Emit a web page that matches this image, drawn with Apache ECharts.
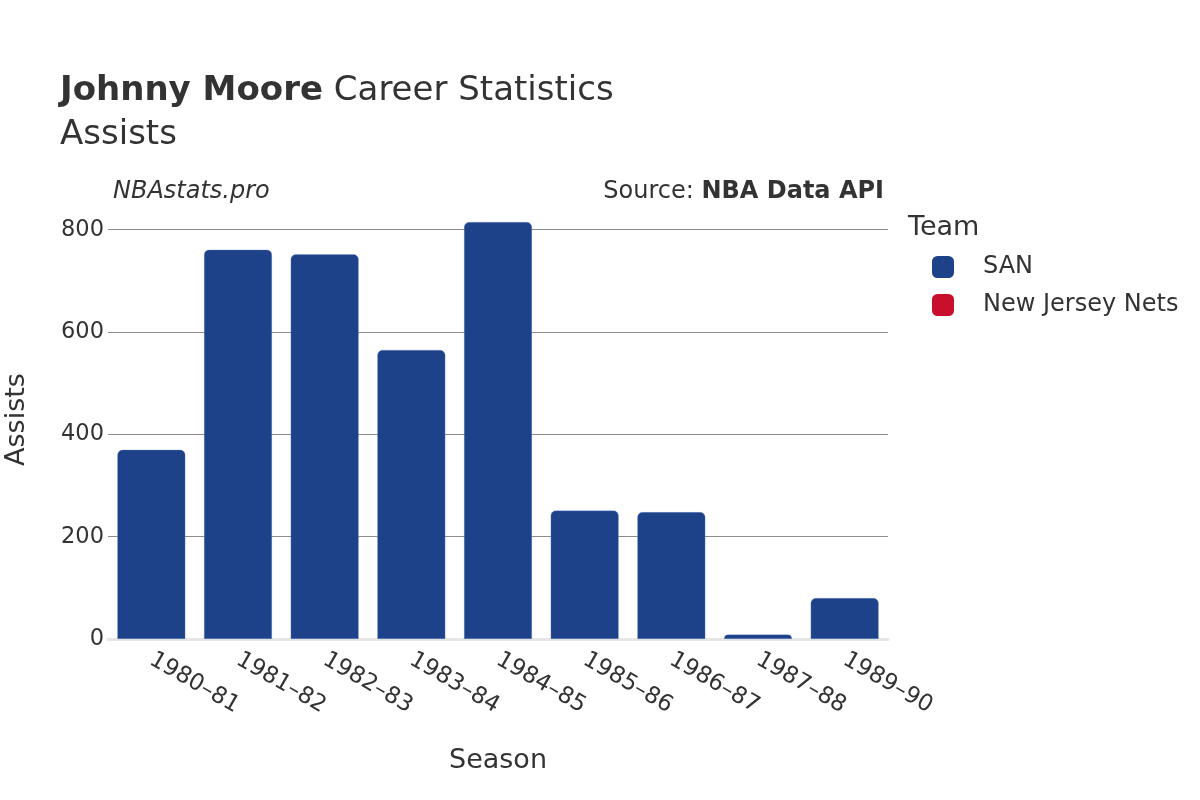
<!DOCTYPE html>
<html>
<head>
<meta charset="utf-8">
<script src="https://cdn.jsdelivr.net/npm/echarts@6/dist/echarts.min.js"></script>
<style>
  html, body { margin: 0; padding: 0; background: #fff; }
  #chart { width: 1200px; height: 800px; }
</style>
</head>
<body>
<div id="chart"></div>
<script>
const seasons = ['1980–81', '1981–82', '1982–83', '1983–84', '1984–85', '1985–86', '1986–87', '1987–88', '1989–90'];
const sanAssists = [370, 761, 752, 565, 815, 251, 248, 9, 80];
const njnAssists = [null, null, null, null, null, null, null, null, null];
const teamNames = ['SAN', 'New Jersey Nets'];
const teamColors = ['#1d428a', '#c8102e'];
const yTicks = [0, 200, 400, 600, 800];

const FONT = 'DejaVu Sans';
const TXT = '#333333';

const chart = echarts.init(document.getElementById('chart'), null, { renderer: 'canvas' });

const option = {
  backgroundColor: '#ffffff',
  animation: false,
  textStyle: { fontFamily: FONT, color: TXT },
  title: [
    {
      text: '{b|Johnny Moore} Career Statistics',
      left: 55, top: 69,
      textStyle: {
        fontFamily: FONT, fontSize: 34, fontWeight: 'normal', color: TXT,
        rich: { b: { fontFamily: FONT, fontSize: 34, fontWeight: 'bold', color: TXT } }
      }
    },
    {
      text: 'Assists',
      left: 55, top: 113,
      textStyle: { fontFamily: FONT, fontSize: 34, fontWeight: 'normal', color: TXT }
    },
    {
      text: 'NBAstats.pro',
      left: 108, top: 175,
      textStyle: { fontFamily: FONT, fontSize: 24, fontStyle: 'italic', fontWeight: 'normal', color: TXT }
    },
    {
      text: 'Source: {b|NBA Data API}',
      right: 311, top: 175,
      textStyle: {
        fontFamily: FONT, fontSize: 24, fontWeight: 'normal', color: TXT,
        rich: { b: { fontFamily: FONT, fontSize: 24, fontWeight: 'bold', color: TXT } }
      }
    },
    {
      text: 'Team',
      left: 903, top: 209,
      textStyle: { fontFamily: FONT, fontSize: 27, fontWeight: 'normal', color: TXT }
    }
  ],
  legend: {
    orient: 'vertical',
    left: 927, top: 250,
    itemWidth: 22, itemHeight: 22,
    itemGap: 14,
    icon: 'roundRect',
    data: teamNames,
    itemStyle: { borderWidth: 0 },
    textStyle: { fontFamily: FONT, fontSize: 24, color: TXT, padding: [0, 0, 0, 24], lineHeight: 22 }
  },
  grid: { left: 108, right: 312, top: 200, bottom: 161, containLabel: false, outerBoundsMode: 'none' },
  xAxis: {
    type: 'category',
    data: seasons,
    name: 'Season',
    nameLocation: 'middle',
    nameGap: 108,
    nameTextStyle: { fontFamily: FONT, fontSize: 27, color: TXT },
    axisLine: { show: true, lineStyle: { color: '#e6e6e6', width: 3 } },
    axisTick: { show: false },
    axisLabel: { rotate: -30, fontFamily: FONT, fontSize: 23, color: TXT, margin: 19, interval: 0 }
  },
  yAxis: {
    type: 'value',
    min: 0, max: 858, interval: 200,
    name: 'Assists',
    nameLocation: 'middle',
    nameGap: 78,
    nameRotate: 90,
    nameTextStyle: { fontFamily: FONT, fontSize: 27, color: TXT },
    axisLine: { show: false },
    axisTick: { show: false },
    axisLabel: {
      fontFamily: FONT, fontSize: 22.5, color: TXT, margin: 4, showMaxLabel: false,
      formatter: function (v) { return yTicks.indexOf(v) >= 0 ? String(v) : ''; }
    },
    splitLine: { show: true, showMaxLine: false, lineStyle: { color: '#8c8c8c', width: 1 } }
  },
  series: [
    {
      name: teamNames[0], type: 'bar', stack: 'team',
      data: sanAssists,
      barCategoryGap: '21.5%',
      itemStyle: { color: teamColors[0], borderRadius: [5, 5, 0, 0], borderColor: 'rgba(120,150,210,0.6)', borderWidth: 0.5 },
      z: 3
    },
    {
      name: teamNames[1], type: 'bar', stack: 'team',
      data: njnAssists,
      barCategoryGap: '21.5%',
      itemStyle: { color: teamColors[1], borderRadius: [5, 5, 0, 0] },
      z: 3
    }
  ]
};

chart.setOption(option);
</script>
</body>
</html>
